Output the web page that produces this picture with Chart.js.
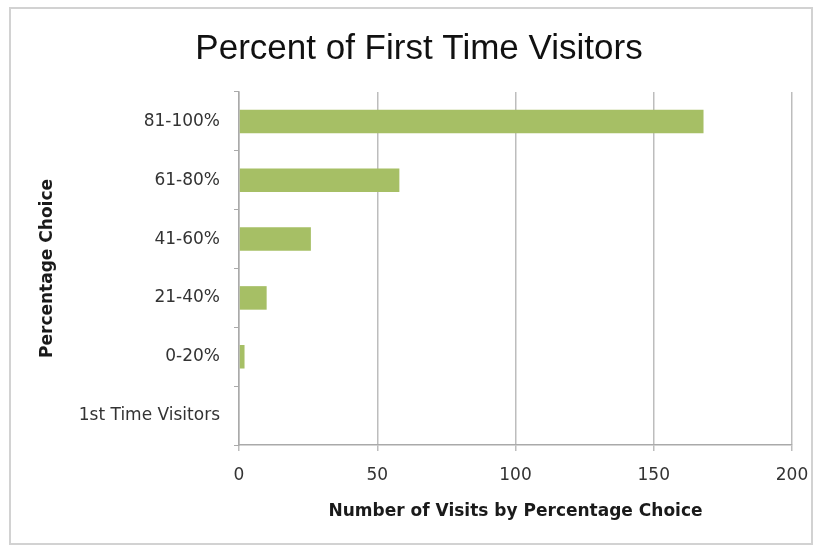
<!DOCTYPE html>
<html>
<head>
<meta charset="utf-8">
<script src="https://cdn.jsdelivr.net/npm/chart.js@4.4.1/dist/chart.umd.min.js"></script>
<style>
    body { margin: 0; background: #ffffff; }
    #wrap { position: relative; width: 818px; height: 548px; overflow: hidden; }
    #frame { position: absolute; left: 9px; top: 7px; width: 800px; height: 534px; border: 2px solid #d2d2d2; }
    canvas { position: absolute; left: 0; top: 0; }
</style>
</head>
<body>
<div id="wrap">
    <div id="frame"></div>
    <canvas id="chart" width="818" height="548"></canvas>
</div>
<script>
// Chart data
const categories = ['81-100%', '61-80%', '41-60%', '21-40%', '0-20%', '1st Time Visitors'];
const visits = [168, 58, 26, 10, 2, 0];
const xTicks = [0, 50, 100, 150, 200];

// nudge the title a bit right, like the original sheet
const titleShift = {
    id: 'titleShift',
    afterLayout(chart) {
        if (chart.titleBlock) {
            chart.titleBlock.left += 13;
            chart.titleBlock.right += 13;
        }
    }
};

const ctx = document.getElementById('chart');
new Chart(ctx, {
    type: 'bar',
    data: {
        labels: categories,
        datasets: [{
            label: 'Number of Visits',
            data: visits,
            backgroundColor: '#a6bf65',
            barPercentage: 0.4,
            categoryPercentage: 1.0
        }]
    },
    options: {
        indexAxis: 'y',
        responsive: false,
        animation: false,
        devicePixelRatio: 1,
        layout: {
            padding: { left: 20, right: 26, top: 0, bottom: 20 }
        },
        plugins: {
            legend: { display: false },
            tooltip: { enabled: false },
            title: {
                display: true,
                text: 'Percent of First Time Visitors',
                color: '#111111',
                font: { family: 'Liberation Sans', size: 35, weight: 'normal' },
                padding: { top: 28, bottom: 22 }
            }
        },
        scales: {
            x: {
                min: 0,
                max: 200,
                afterBuildTicks: (scale) => {
                    scale.ticks = xTicks.map(v => ({ value: v }));
                },
                afterFit: (scale) => {
                    scale.height = 83;
                    scale.paddingLeft = 0;
                    scale.paddingRight = 0;
                },
                grid: { color: '#bdbdbd', tickLength: 6, lineWidth: 1.5 },
                border: { display: true, color: '#aaaaaa', width: 1.5 },
                ticks: {
                    padding: 14,
                    color: '#333333',
                    font: { family: 'DejaVu Sans', size: 17 }
                },
                title: {
                    display: true,
                    text: 'Number of Visits by Percentage Choice',
                    color: '#1a1a1a',
                    font: { family: 'DejaVu Sans', size: 17, weight: 'bold' },
                    padding: { top: 0, bottom: 6 }
                }
            },
            y: {
                afterFit: (scale) => { scale.width = 219; },
                grid: { drawOnChartArea: false, tickLength: 5, color: '#aaaaaa', offset: true },
                border: { display: true, color: '#aaaaaa', width: 1.5 },
                ticks: {
                    padding: 14,
                    color: '#333333',
                    font: { family: 'DejaVu Sans', size: 17 }
                },
                title: {
                    display: true,
                    text: 'Percentage Choice',
                    color: '#1a1a1a',
                    font: { family: 'DejaVu Sans', size: 17, weight: 'bold' },
                    padding: { top: 17, bottom: 0 }
                }
            }
        }
    },
    plugins: [titleShift]
});
</script>
</body>
</html>
